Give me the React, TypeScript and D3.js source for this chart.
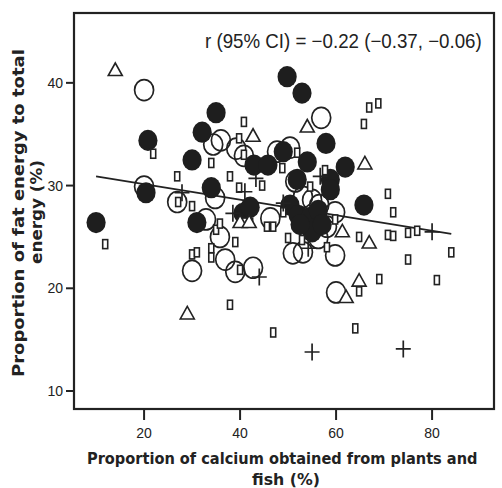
import React, { useLayoutEffect, useRef, useState } from 'react';
import * as d3 from 'd3';

type Pt = [number, number];

const xTicks = [20, 40, 60, 80];
const yTicks = [10, 20, 30, 40];

// fitted line, calcium % -> fat energy %
const fitX = [10, 84];
const fitY = [30.9, 25.3];

const filledPts: Pt[] = [
  [10.0, 26.4], [20.8, 34.4], [20.4, 29.3], [30.0, 32.5], [32.1, 35.2], [35.0, 37.1],
  [34.0, 29.8], [31.0, 26.4], [42.9, 32.0], [45.8, 32.0], [49.8, 40.6], [52.9, 39.0],
  [49.0, 33.3], [54.0, 32.3], [57.9, 34.1], [61.9, 31.8], [58.8, 30.6], [58.8, 29.6],
  [51.9, 30.6], [65.8, 28.1], [40.6, 27.3], [42.1, 27.9], [50.4, 28.1], [52.1, 27.1],
  [54.6, 26.9], [56.3, 27.6], [55.0, 25.5], [52.5, 26.2], [57.1, 26.2],
];

const openPts: Pt[] = [
  [20.0, 39.3], [20.0, 29.9], [26.9, 28.4], [32.9, 26.7], [34.4, 34.0], [36.0, 34.4],
  [39.2, 33.6], [40.8, 32.9], [34.8, 28.8], [35.8, 25.0], [30.0, 21.7], [36.9, 22.8],
  [39.0, 21.6], [42.7, 22.0], [46.3, 26.8], [59.8, 27.4], [51.0, 23.4], [53.1, 23.5],
  [59.8, 23.2], [56.3, 24.9], [55.0, 28.6], [58.1, 26.0], [60.0, 19.6], [56.9, 36.6],
  [47.7, 33.3], [50.4, 33.7], [51.5, 30.4], [53.1, 28.9], [56.5, 28.1],
];

const trianglePts: Pt[] = [
  [14.0, 41.3], [42.7, 34.9], [54.0, 35.8], [66.0, 32.2], [29.0, 17.6], [66.9, 24.5],
  [64.8, 20.8], [62.1, 19.2], [61.3, 25.6], [40.0, 26.5], [41.9, 26.5],
];

const rectPts: Pt[] = [
  [11.9, 24.3], [21.9, 33.1], [26.9, 30.9], [27.1, 28.4], [30.0, 28.0], [34.0, 32.2],
  [37.9, 30.9], [40.8, 36.2], [39.8, 34.6], [40.8, 33.0], [44.6, 30.0], [48.8, 31.7],
  [51.9, 33.2], [54.6, 29.9], [57.7, 31.5], [65.8, 36.0], [66.9, 37.6], [68.8, 38.0],
  [70.8, 29.2], [71.9, 27.4], [30.0, 23.3], [31.0, 23.5], [34.0, 23.9], [34.0, 23.0],
  [35.0, 25.7], [35.8, 26.3], [39.0, 24.5], [40.0, 21.8], [37.9, 18.4], [46.9, 15.7],
  [64.0, 16.1], [64.8, 19.7], [64.8, 25.0], [69.0, 20.9], [70.8, 25.2], [71.9, 25.1],
  [75.0, 25.4], [76.9, 25.6], [75.0, 22.8], [81.0, 20.8], [84.0, 23.5], [50.0, 24.9],
  [52.9, 24.7], [58.1, 24.0], [59.8, 26.7], [45.6, 26.0], [46.9, 26.0], [49.0, 27.4],
  [39.8, 29.8], [41.0, 26.4], [42.1, 26.4],
];

const plusPts: Pt[] = [
  [44.0, 21.1], [55.0, 13.8], [74.0, 14.1], [80.0, 25.5], [38.5, 27.3], [27.9, 29.3],
  [41.0, 29.4], [43.3, 30.7], [56.7, 30.9], [49.0, 28.3], [54.2, 23.9],
];

const title = 'r (95% CI) = \u22120.22 (\u22120.37, \u22120.06)';
const xLabel = ['Proportion of calcium obtained from plants and', 'fish  (%)'];
const yLabel = ['Proportion of fat energy to total', 'energy  (%)'];

const W = 502;
const H = 488;
const left = 74, right = 494, top = 13, bottom = 409;

const labelStyle = { fontFamily: 'DejaVu Sans, sans-serif', fontSize: 16.5, fontWeight: 'bold' as const };
const plainStyle = { fontFamily: 'Liberation Sans, Arial, sans-serif', fontSize: 20 };

// text squeezed horizontally to a given width (the original uses a narrow face)
function FitText({ x, y, width, rotate = 0, anchor = 'start', style, children }: any) {
  const ref = useRef<SVGTextElement>(null);
  const [sx, setSx] = useState(1);
  useLayoutEffect(() => {
    if (ref.current) {
      const len = ref.current.getComputedTextLength();
      if (len > 0) setSx(width / len);
    }
  }, [width, children]);
  return (
    <g transform={`translate(${x},${y}) rotate(${rotate}) scale(${sx},1)`}>
      <text ref={ref} x={0} y={0} textAnchor={anchor} fill="#222" {...style}>{children}</text>
    </g>
  );
}

export default function App() {
  const x = d3.scaleLinear().domain([5.4, 92.9]).range([left, right]);
  const y = d3.scaleLinear().domain([8.25, 46.8]).range([bottom, top]);

  const fit = d3.line<number>()
    .x((d) => x(d))
    .y((_, i) => y(fitY[i]));

  const tickFont = { fontFamily: 'Liberation Sans, Arial, sans-serif', fontSize: 14 };

  return (
    <svg width={W} height={H} style={{ position: 'absolute', left: 0, top: 0, background: '#fff' }}>
      <rect x={0} y={0} width={W} height={H} fill="#fff" />

      {/* frame */}
      <rect x={left} y={top} width={right - left} height={bottom - top} fill="none" stroke="#222" strokeWidth={2.2} />

      {/* y axis */}
      {yTicks.map((t) => (
        <g key={'y' + t}>
          <line x1={left - 8} x2={left} y1={y(t)} y2={y(t)} stroke="#222" strokeWidth={2} />
          <text x={left - 11} y={y(t) + 5} textAnchor="end" fill="#222" {...tickFont}>{t}</text>
        </g>
      ))}

      {/* x axis */}
      {xTicks.map((t) => (
        <g key={'x' + t}>
          <line x1={x(t)} x2={x(t)} y1={bottom} y2={bottom + 11} stroke="#222" strokeWidth={2} />
          <text x={x(t)} y={438} textAnchor="middle" fill="#222" {...tickFont}>{t}</text>
        </g>
      ))}

      {/* regression line */}
      <path d={fit(fitX) || ''} fill="none" stroke="#222" strokeWidth={1.8} />

      {/* open circles */}
      {openPts.map((d, i) => (
        <ellipse key={'o' + i} cx={x(d[0])} cy={y(d[1])} rx={9.5} ry={10.5} fill="none" stroke="#222" strokeWidth={1.7} />
      ))}

      {/* filled circles */}
      {filledPts.map((d, i) => (
        <ellipse key={'f' + i} cx={x(d[0])} cy={y(d[1])} rx={9.6} ry={10.6} fill="#1e1e1e" />
      ))}

      {/* rectangles */}
      {rectPts.map((d, i) => (
        <rect key={'r' + i} x={x(d[0]) - 2.5} y={y(d[1]) - 4.5} width={5} height={9} fill="#fff" stroke="#222" strokeWidth={1.6} />
      ))}

      {/* triangles */}
      {trianglePts.map((d, i) => {
        const cx = x(d[0]);
        const cy = y(d[1]);
        return (
          <path key={'t' + i} d={`M${cx},${cy - 6.5}L${cx + 7},${cy + 6}L${cx - 7},${cy + 6}Z`} fill="#fff" stroke="#222" strokeWidth={1.6} />
        );
      })}

      {/* plus signs */}
      {plusPts.map((d, i) => {
        const cx = x(d[0]);
        const cy = y(d[1]);
        return (
          <path key={'p' + i} d={`M${cx - 7.5},${cy}H${cx + 7.5}M${cx},${cy - 8.5}V${cy + 8.5}`} stroke="#222" strokeWidth={1.7} fill="none" />
        );
      })}

      {/* correlation text */}
      <FitText x={205} y={48} width={277} style={plainStyle}>{title}</FitText>

      {/* axis titles */}
      <FitText x={87} y={464} width={391} style={labelStyle}>{xLabel[0]}</FitText>
      <FitText x={286} y={485} width={68} anchor="middle" style={labelStyle}>{xLabel[1]}</FitText>

      <FitText x={24} y={377} width={328} rotate={-90} style={labelStyle}>{yLabel[0]}</FitText>
      <FitText x={42} y={212} width={104} rotate={-90} anchor="middle" style={labelStyle}>{yLabel[1]}</FitText>
    </svg>
  );
}
